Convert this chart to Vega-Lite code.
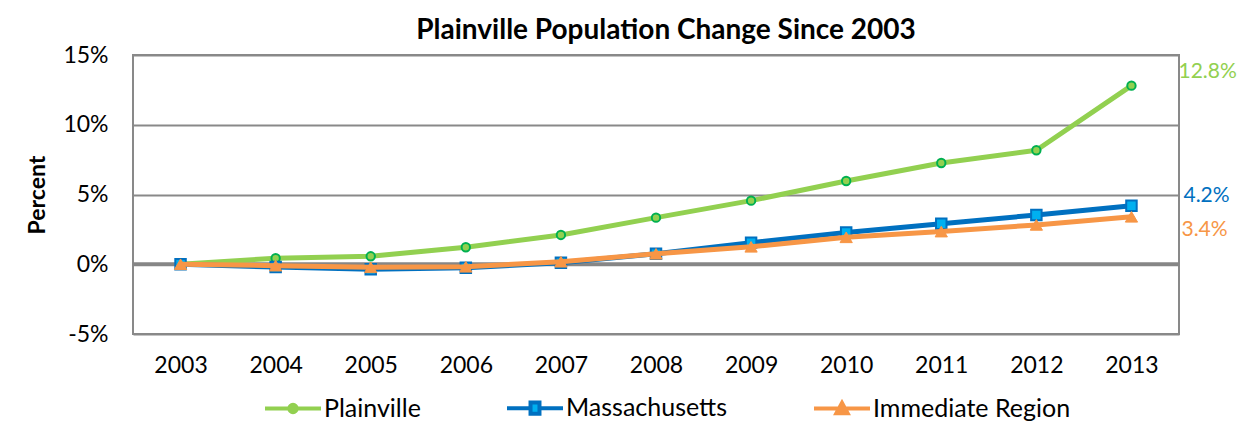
{
  "$schema": "https://vega.github.io/schema/vega-lite/v6.json",
  "autosize": "none",
  "width": 1046,
  "height": 279,
  "padding": {"left": 133, "top": 55, "right": 69, "bottom": 101},
  "background": "white",
  "title": {
    "text": "Plainville Population Change Since 2003",
    "font": "Lato",
    "fontSize": 28,
    "fontWeight": "bold",
    "color": "#000000",
    "anchor": "middle",
    "baseline": "alphabetic",
    "offset": 15,
    "dx": 10,
    "dy": 38
  },
  "config": {
    "view": {"stroke": "#898989", "strokeWidth": 2},
    "font": "Lato"
  },
  "data": {
    "values": [
      {"year": "2003", "series": "Plainville", "value": 0.0},
      {"year": "2004", "series": "Plainville", "value": 0.0043},
      {"year": "2005", "series": "Plainville", "value": 0.0057},
      {"year": "2006", "series": "Plainville", "value": 0.0122},
      {"year": "2007", "series": "Plainville", "value": 0.021},
      {"year": "2008", "series": "Plainville", "value": 0.0334},
      {"year": "2009", "series": "Plainville", "value": 0.0456},
      {"year": "2010", "series": "Plainville", "value": 0.0597},
      {"year": "2011", "series": "Plainville", "value": 0.0726},
      {"year": "2012", "series": "Plainville", "value": 0.0817},
      {"year": "2013", "series": "Plainville", "value": 0.128},
      {"year": "2003", "series": "Massachusetts", "value": 0.0},
      {"year": "2004", "series": "Massachusetts", "value": -0.002},
      {"year": "2005", "series": "Massachusetts", "value": -0.0035},
      {"year": "2006", "series": "Massachusetts", "value": -0.0025},
      {"year": "2007", "series": "Massachusetts", "value": 0.001},
      {"year": "2008", "series": "Massachusetts", "value": 0.0075},
      {"year": "2009", "series": "Massachusetts", "value": 0.0155},
      {"year": "2010", "series": "Massachusetts", "value": 0.0227},
      {"year": "2011", "series": "Massachusetts", "value": 0.0291},
      {"year": "2012", "series": "Massachusetts", "value": 0.0353},
      {"year": "2013", "series": "Massachusetts", "value": 0.042},
      {"year": "2003", "series": "Immediate Region", "value": 0.0},
      {"year": "2004", "series": "Immediate Region", "value": -0.001},
      {"year": "2005", "series": "Immediate Region", "value": -0.0022},
      {"year": "2006", "series": "Immediate Region", "value": -0.0018},
      {"year": "2007", "series": "Immediate Region", "value": 0.0018},
      {"year": "2008", "series": "Immediate Region", "value": 0.0075},
      {"year": "2009", "series": "Immediate Region", "value": 0.0125},
      {"year": "2010", "series": "Immediate Region", "value": 0.0193},
      {"year": "2011", "series": "Immediate Region", "value": 0.0234},
      {"year": "2012", "series": "Immediate Region", "value": 0.0282},
      {"year": "2013", "series": "Immediate Region", "value": 0.034}
    ]
  },
  "encoding": {
    "x": {
      "field": "year",
      "type": "ordinal",
      "scale": {"type": "point", "padding": 0.5},
      "axis": {
        "title": null,
        "labelAngle": 0,
        "labelFont": "Lato",
        "labelFontSize": 23,
        "labelColor": "#000000",
        "labelPadding": 20,
        "ticks": false,
        "domain": false,
        "grid": false
      }
    },
    "y": {
      "field": "value",
      "type": "quantitative",
      "scale": {"domain": [-0.05, 0.15], "nice": false, "zero": false},
      "axis": {
        "values": [-0.05, 0, 0.05, 0.1, 0.15],
        "format": ".0%",
        "labelExpr": "replace(datum.label, '\u2212', '-')",
        "title": "Percent",
        "titleFont": "Lato",
        "titleFontSize": 23,
        "titleFontWeight": "bold",
        "titleColor": "#000000",
        "titleAngle": 270,
        "titleX": -96,
        "titleY": 139.5,
        "titleAlign": "center",
        "titleBaseline": "middle",
        "labelFont": "Lato",
        "labelFontSize": 23,
        "labelColor": "#000000",
        "labelPadding": 25,
        "ticks": false,
        "domain": false,
        "grid": true,
        "gridColor": "#898989",
        "gridWidth": 2
      }
    }
  },
  "layer": [
    {
      "data": {"values": [{"zero": 0}]},
      "mark": {"type": "rule", "stroke": "#868686", "strokeWidth": 4},
      "encoding": {"y": {"field": "zero", "type": "quantitative"}, "x": null}
    },
    {
      "transform": [{"filter": "datum.series === 'Plainville'"}],
      "mark": {"type": "line", "strokeWidth": 5, "strokeCap": "round", "strokeJoin": "round"},
      "encoding": {
        "color": {
          "field": "series",
          "type": "nominal",
          "scale": {
            "domain": ["Plainville", "Massachusetts", "Immediate Region"],
            "range": ["#92D050", "#0070C0", "#F79646"]
          },
          "legend": {
            "orient": "none",
            "legendX": 130,
            "legendY": 323,
            "direction": "horizontal",
            "title": null,
            "padding": 0,
            "symbolSize": 3136,
            "symbolStrokeWidth": 4,
            "symbolType": "M-1,0H1",
            "labelFont": "Lato",
            "labelFontSize": 25,
            "labelColor": "#000000",
            "labelOffset": 1,
            "labelLimit": 0,
            "columnPadding": 78,
            "encode": {
              "symbols": {
                "update": {
                  "shape": {"signal": "datum.value === 'Plainville' ? 'M-1,0H-0.13M0.13,0H1M-0.13,0A0.13,0.13,0,1,0,0.13,0A0.13,0.13,0,1,0,-0.13,0Z' : datum.value === 'Massachusetts' ? 'M-1,0H-0.16M0.16,0H1M-0.16,-0.2H0.16V0.2H-0.16Z' : 'M-1,0H1M-0.2,0.17L0,-0.2L0.2,0.17Z'"},
                  "fill": {"signal": "datum.value === 'Plainville' ? '#92D050' : datum.value === 'Massachusetts' ? '#00B0F0' : '#F79646'"},
                  "strokeWidth": {"signal": "4"}
                }
              }
            }
          }
        }
      }
    },
    {
      "transform": [{"filter": "datum.series === 'Plainville'"}],
      "mark": {"type": "point", "shape": "circle", "size": 70, "filled": true, "fill": "#92D050", "stroke": "#00B050", "strokeWidth": 2, "opacity": 1}
    },
    {
      "transform": [{"filter": "datum.series === 'Massachusetts'"}],
      "mark": {"type": "line", "strokeWidth": 5, "strokeCap": "round", "strokeJoin": "round"},
      "encoding": {"color": {"field": "series", "type": "nominal"}}
    },
    {
      "transform": [{"filter": "datum.series === 'Massachusetts'"}],
      "mark": {"type": "point", "shape": "square", "size": 110, "filled": true, "fill": "#00B0F0", "stroke": "#0070C0", "strokeWidth": 2, "opacity": 1}
    },
    {
      "transform": [{"filter": "datum.series === 'Immediate Region'"}],
      "mark": {"type": "line", "strokeWidth": 5, "strokeCap": "round", "strokeJoin": "round"},
      "encoding": {"color": {"field": "series", "type": "nominal"}}
    },
    {
      "transform": [{"filter": "datum.series === 'Immediate Region'"}],
      "mark": {"type": "point", "shape": "triangle-up", "size": 150, "filled": true, "fill": "#F79646", "stroke": "#F79646", "strokeWidth": 1, "opacity": 1}
    },
    {
      "transform": [{"filter": "datum.series === 'Plainville' && datum.year === '2013'"}],
      "mark": {"type": "text", "align": "left", "baseline": "middle", "dx": 47, "dy": -14, "fontSize": 21, "font": "Lato", "color": "#92D050"},
      "encoding": {"text": {"field": "value", "type": "quantitative", "format": ".1%"}}
    },
    {
      "transform": [{"filter": "datum.series === 'Massachusetts' && datum.year === '2013'"}],
      "mark": {"type": "text", "align": "left", "baseline": "middle", "dx": 52, "dy": -10, "fontSize": 21, "font": "Lato", "color": "#0070C0"},
      "encoding": {"text": {"field": "value", "type": "quantitative", "format": ".1%"}}
    },
    {
      "transform": [{"filter": "datum.series === 'Immediate Region' && datum.year === '2013'"}],
      "mark": {"type": "text", "align": "left", "baseline": "middle", "dx": 50, "dy": 13, "fontSize": 21, "font": "Lato", "color": "#F79646"},
      "encoding": {"text": {"field": "value", "type": "quantitative", "format": ".1%"}}
    }
  ]
}
